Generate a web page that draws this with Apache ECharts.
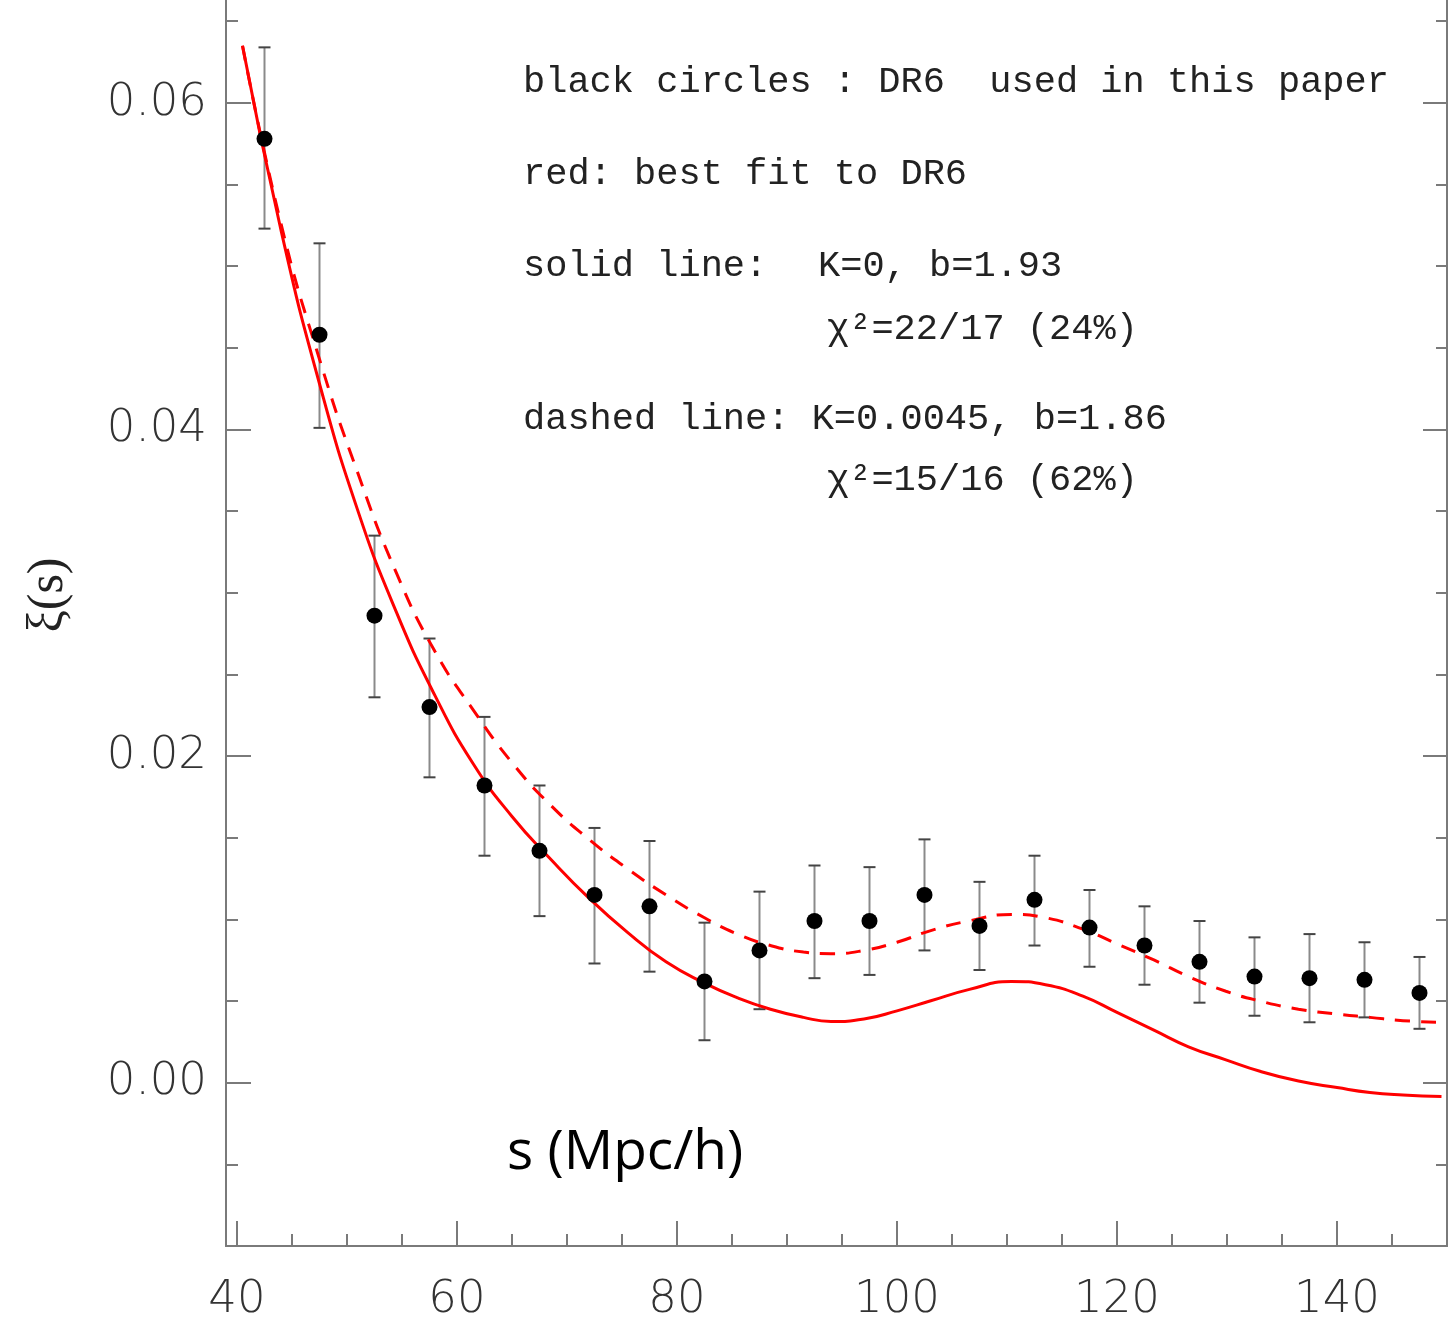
<!DOCTYPE html>
<html>
<head>
<meta charset="utf-8">
<script src="https://cdn.jsdelivr.net/npm/echarts@6/dist/echarts.min.js"></script>
<style>
  html, body { margin: 0; padding: 0; background: #fff; }
  #chart { width: 1450px; height: 1321px; }
</style>
</head>
<body>
<div id="chart"></div>
<script>
// data points (black circles) : s in Mpc/h, xi(s) and its error bar ends
var sPoints = [42.5, 47.5, 52.5, 57.5, 62.5, 67.5, 72.5, 77.5, 82.5, 87.5, 92.5,
               97.5, 102.5, 107.5, 112.5, 117.5, 122.5, 127.5, 132.5, 137.5, 142.5, 147.5];
var xiPoints = [0.0578, 0.0458, 0.0286, 0.0230, 0.0182, 0.0142, 0.0115, 0.0108, 0.0062, 0.0081, 0.0099,
                0.0099, 0.0115, 0.0096, 0.0112, 0.0095, 0.0084, 0.0074, 0.0065, 0.0064, 0.0063, 0.0055];
var errLow = [0.0523, 0.0401, 0.0236, 0.0187, 0.0139, 0.0102, 0.0073, 0.0068, 0.0026, 0.0045, 0.0064,
              0.0066, 0.0081, 0.0069, 0.0084, 0.0071, 0.0060, 0.0049, 0.0041, 0.0037, 0.0040, 0.0033];
var errHigh = [0.0634, 0.0514, 0.0335, 0.0272, 0.0224, 0.0182, 0.0156, 0.0148, 0.0098, 0.0117, 0.0133,
               0.0132, 0.0149, 0.0123, 0.0139, 0.0118, 0.0108, 0.0099, 0.0089, 0.0091, 0.0086, 0.0077];

// model curves
var curveS = [40.5, 44.0, 47.5, 51.0, 54.5, 58.0, 61.5, 65.0, 68.5, 72.0, 75.5, 79.0, 82.5,
              85.5, 88.5, 91.5, 94.0, 97.0, 100.0, 103.0, 106.5, 110.4, 113.5, 116.9,
              120.0, 123.4, 126.5, 129.9, 133.0, 136.5, 140.0, 143.0, 146.0, 149.5];
// solid red line: K=0, b=1.93
var solidXi = [0.0635, 0.0522, 0.0428, 0.0350, 0.0288, 0.0237, 0.0195, 0.0163, 0.0137, 0.0113, 0.0092, 0.0074, 0.0061,
               0.0052, 0.0045, 0.0040, 0.00375, 0.0039, 0.0044, 0.0050, 0.0057, 0.0062, 0.0060, 0.0053,
               0.0043, 0.0032, 0.0022, 0.0014, 0.0007, 0.0001, -0.0003, -0.0006, -0.00075, -0.00084];
// dashed red line: K=0.0045, b=1.86
var dashedXi = [0.0635, 0.0526, 0.0443, 0.0373, 0.0312, 0.0264, 0.0228, 0.0196, 0.0170, 0.0149, 0.0131, 0.0115, 0.0101,
                0.0091, 0.0084, 0.0080, 0.0079, 0.0081, 0.0086, 0.0093, 0.0099, 0.0103, 0.0101, 0.0094,
                0.0085, 0.0075, 0.0065, 0.0056, 0.0050, 0.0045, 0.0042, 0.0040, 0.0038, 0.0037];

// ticks
var xMajor = [40, 60, 80, 100, 120, 140];
var xMinor = [45, 50, 55, 65, 70, 75, 85, 90, 95, 105, 110, 115, 125, 130, 135, 145, 150];
var yMajor = [0, 0.02, 0.04, 0.06];
var yMinor = [-0.005, 0.005, 0.01, 0.015, 0.025, 0.03, 0.035, 0.045, 0.05, 0.055, 0.065];

function zip(a, b) {
    var out = [];
    for (var i = 0; i < a.length; i++) out.push([a[i], b[i]]);
    return out;
}

var axisGrey = '#7a7a7a';
var labelFont = {fontFamily: 'DejaVu Sans', fontSize: 45, fontWeight: 200, color: '#333'};
var noteFont = '37px "Liberation Mono"';

function xAxisDef(ticks, len, withLabels, withLine) {
    return {
        type: 'value', position: 'bottom', min: 39, max: 150,
        axisLine: {show: withLine, onZero: false, lineStyle: {color: axisGrey, width: 2}},
        axisTick: {show: true, inside: true, length: len, customValues: ticks,
                   lineStyle: {color: axisGrey, width: 2}},
        axisLabel: withLabels ? Object.assign({show: true, margin: 32, customValues: ticks}, labelFont)
                              : {show: false},
        splitLine: {show: false}
    };
}

function yAxisDef(pos, ticks, len, withLabels) {
    return {
        type: 'value', position: pos, min: -0.01, max: 0.0663,
        axisLine: {show: true, onZero: false, lineStyle: {color: axisGrey, width: 2}},
        axisTick: {show: true, inside: true, length: len, customValues: ticks,
                   lineStyle: {color: axisGrey, width: 2}},
        axisLabel: withLabels ? Object.assign({
            show: true, margin: 19, customValues: ticks,
            formatter: function (v) { return v.toFixed(2); }
        }, labelFont) : {show: false},
        splitLine: {show: false}
    };
}

var myChart = echarts.init(document.getElementById('chart'), null, {renderer: 'canvas'});

var option = {
    animation: false,
    backgroundColor: '#fff',
    grid: {left: 226, right: 3, top: 0, bottom: 75, outerBoundsMode: 'none', containLabel: false},
    xAxis: [
        xAxisDef(xMajor, 25, true, true),
        xAxisDef(xMinor, 12, false, false)
    ],
    yAxis: [
        yAxisDef('left', yMajor, 25, true),
        yAxisDef('left', yMinor, 12, false),
        yAxisDef('right', yMajor, 24, false),
        yAxisDef('right', yMinor, 11, false)
    ],
    graphic: [
        {type: 'text', x: 49, y: 595, rotation: Math.PI / 2,
         style: {text: 'ξ(s)', font: '50px "Liberation Serif"', fill: '#222',
                 textAlign: 'center', textVerticalAlign: 'middle'}},
        {type: 'text', x: 507, y: 1153,
         style: {text: 's (Mpc/h)', font: '55px "Open Sans"', fill: '#000',
                 textAlign: 'left', textVerticalAlign: 'middle'}},
        {type: 'text', x: 523, y: 82,
         style: {text: 'black circles : DR6  used in this paper', font: noteFont, fill: '#222', textVerticalAlign: 'middle'}},
        {type: 'text', x: 523, y: 174,
         style: {text: 'red: best fit to DR6', font: noteFont, fill: '#222', textVerticalAlign: 'middle'}},
        {type: 'text', x: 523, y: 266,
         style: {text: 'solid line:', font: noteFont, fill: '#222', textVerticalAlign: 'middle'}},
        {type: 'text', x: 818, y: 266,
         style: {text: 'K=0, b=1.93', font: noteFont, fill: '#222', textVerticalAlign: 'middle'}},
        {type: 'text', x: 827, y: 329,
         style: {text: 'χ²=22/17 (24%)', font: noteFont, fill: '#222', textVerticalAlign: 'middle'}},
        {type: 'text', x: 523, y: 419,
         style: {text: 'dashed line: K=0.0045, b=1.86', font: noteFont, fill: '#222', textVerticalAlign: 'middle'}},
        {type: 'text', x: 827, y: 480,
         style: {text: 'χ²=15/16 (62%)', font: noteFont, fill: '#222', textVerticalAlign: 'middle'}}
    ],
    series: [
        {
            name: 'errors',
            type: 'custom',
            xAxisIndex: 0, yAxisIndex: 0,
            data: sPoints.map(function (s, i) { return [s, errLow[i], errHigh[i]]; }),
            renderItem: function (params, api) {
                var lo = api.coord([api.value(0), api.value(1)]);
                var hi = api.coord([api.value(0), api.value(2)]);
                var w = 6;
                return {
                    type: 'group',
                    children: [
                        {type: 'line', shape: {x1: lo[0], y1: lo[1], x2: hi[0], y2: hi[1]},
                         style: {stroke: '#8a8a8a', lineWidth: 2}},
                        {type: 'line', shape: {x1: lo[0] - w, y1: lo[1], x2: lo[0] + w, y2: lo[1]},
                         style: {stroke: '#444', lineWidth: 2}},
                        {type: 'line', shape: {x1: hi[0] - w, y1: hi[1], x2: hi[0] + w, y2: hi[1]},
                         style: {stroke: '#444', lineWidth: 2}}
                    ]
                };
            },
            z: 1
        },
        {
            name: 'K=0, b=1.93',
            type: 'line',
            data: zip(curveS, solidXi),
            smooth: 0.5,
            showSymbol: false,
            lineStyle: {color: '#ff0000', width: 3},
            z: 2
        },
        {
            name: 'K=0.0045, b=1.86',
            type: 'line',
            data: zip(curveS, dashedXi),
            smooth: 0.5,
            showSymbol: false,
            lineStyle: {color: '#ff0000', width: 3, type: [15, 11]},
            z: 2
        },
        {
            name: 'DR6',
            type: 'scatter',
            data: zip(sPoints, xiPoints),
            symbol: 'circle',
            symbolSize: 16,
            itemStyle: {color: '#000', opacity: 1},
            z: 3
        }
    ]
};

myChart.setOption(option);
</script>
</body>
</html>
